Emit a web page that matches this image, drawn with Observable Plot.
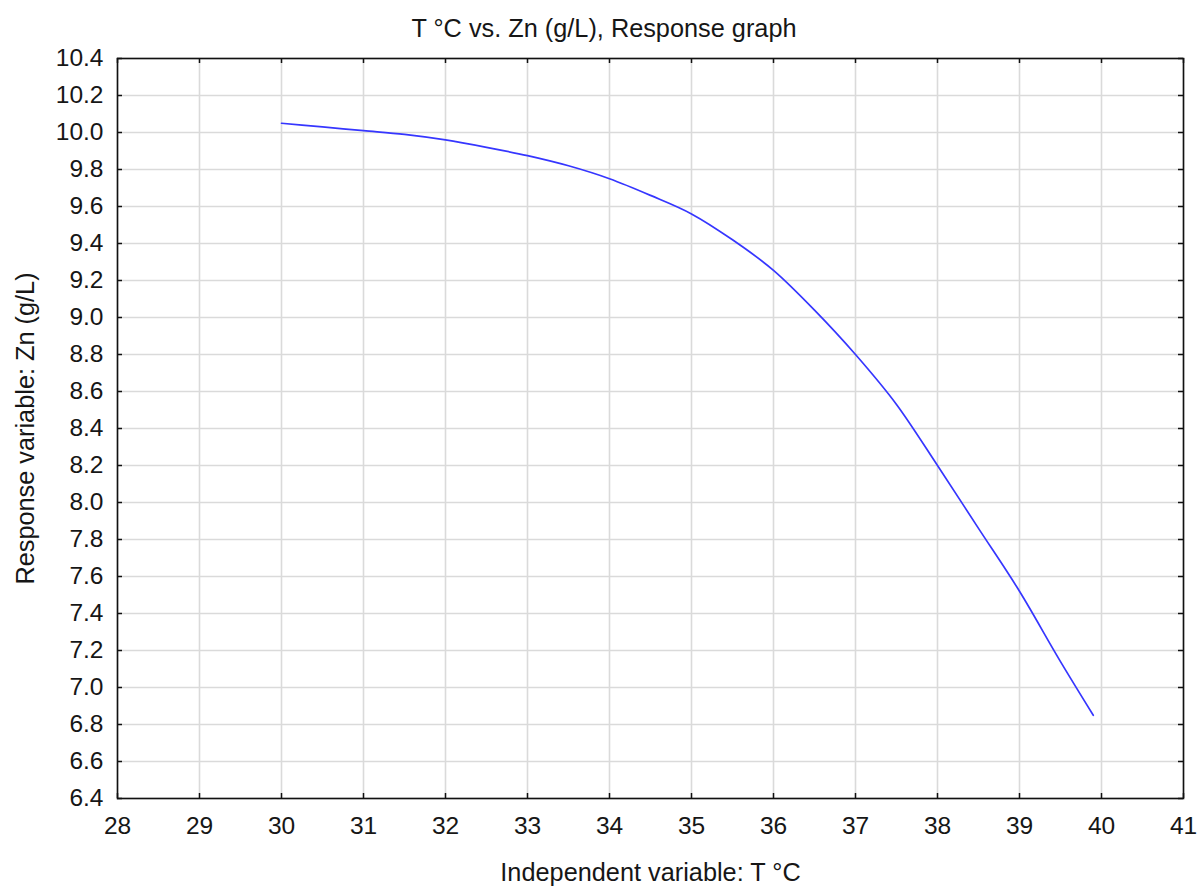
<!DOCTYPE html>
<html>
<head>
<meta charset="utf-8">
<script src="https://cdn.jsdelivr.net/npm/d3@7"></script>
<script src="https://cdn.jsdelivr.net/npm/@observablehq/plot@0.6"></script>
<style>
  html, body { margin: 0; padding: 0; background: #fff; }
</style>
</head>
<body>
<div id="chart"></div>
<script>
// Data
const temperature = [30, 30.5, 31, 31.5, 32, 32.5, 33, 33.5, 34, 34.5, 35, 35.5, 36, 36.5, 37, 37.5, 38, 38.5, 39, 39.5, 39.9];
const zinc = [10.05, 10.03, 10.01, 9.99, 9.96, 9.92, 9.875, 9.82, 9.75, 9.66, 9.56, 9.42, 9.255, 9.04, 8.80, 8.53, 8.20, 7.86, 7.52, 7.14, 6.85];
const xTicks = [28, 29, 30, 31, 32, 33, 34, 35, 36, 37, 38, 39, 40, 41];
const yTicks = [6.4, 6.6, 6.8, 7.0, 7.2, 7.4, 7.6, 7.8, 8.0, 8.2, 8.4, 8.6, 8.8, 9.0, 9.2, 9.4, 9.6, 9.8, 10.0, 10.2, 10.4];
const title = "T °C vs. Zn (g/L), Response graph";
const xLabel = "Independent variable: T °C";
const yLabel = "Response variable: Zn (g/L)";

const W = 1197, H = 887;
const mL = 117, mR = 14, mT = 58, mB = 89;
const pw = W - mL - mR, ph = H - mT - mB;
const tickLen = 5;

const rows = temperature.map((t, i) => ({t, z: zinc[i]}));

const chart = Plot.plot({
  width: W,
  height: H,
  marginLeft: mL,
  marginRight: mR,
  marginTop: mT,
  marginBottom: mB,
  style: {fontFamily: "'Liberation Sans', Arial, sans-serif", fontSize: "24px", color: "#161616", background: "#fff"},
  x: {domain: [28, 41], ticks: xTicks, label: null},
  y: {domain: [6.4, 10.4], ticks: yTicks, label: null},
  marks: [
    Plot.gridX(xTicks, {stroke: "#dadada", strokeOpacity: 1, strokeWidth: 1.6}),
    Plot.gridY(yTicks, {stroke: "#dadada", strokeOpacity: 1, strokeWidth: 1.6}),
    Plot.tickX(xTicks, {x: d => d, insetTop: ph - tickLen, stroke: "#111", strokeWidth: 1.5}),
    Plot.tickX(xTicks, {x: d => d, insetBottom: ph - tickLen, stroke: "#111", strokeWidth: 1.5}),
    Plot.tickY(yTicks, {y: d => d, insetRight: pw - tickLen, stroke: "#111", strokeWidth: 1.5}),
    Plot.tickY(yTicks, {y: d => d, insetLeft: pw - tickLen, stroke: "#111", strokeWidth: 1.5}),
    Plot.axisX(xTicks, {anchor: "bottom", tickSize: 0, tickPadding: 18, fontSize: 24.5, tickFormat: d => String(d), label: null}),
    Plot.axisY(yTicks, {anchor: "left", tickSize: 0, tickPadding: 14, fontSize: 24.5, tickFormat: d3.format(".1f"), label: null}),
    Plot.frame({stroke: "#111", strokeWidth: 1.6}),
    Plot.line(rows, {x: "t", y: "z", stroke: "#3636ff", strokeWidth: 1.7, curve: "monotone-x"}),
    Plot.text([title], {text: d => d, frameAnchor: "top", dx: (W / 2 + 5) - (mL + pw / 2), dy: -30, lineAnchor: "middle", textAnchor: "middle", fontSize: 25.3}),
    Plot.text([xLabel], {text: d => d, frameAnchor: "bottom", dy: 74, lineAnchor: "middle", textAnchor: "middle", fontSize: 25.3}),
    Plot.text([yLabel], {text: d => d, frameAnchor: "left", dx: -92, rotate: -90, lineAnchor: "middle", textAnchor: "middle", fontSize: 25.3})
  ]
});
document.getElementById("chart").appendChild(chart);
</script>
</body>
</html>
